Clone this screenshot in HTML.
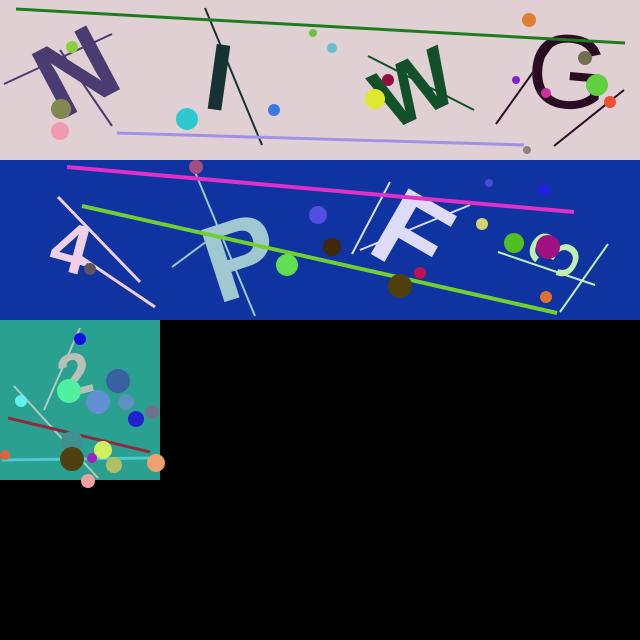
<!DOCTYPE html>
<html><head><meta charset="utf-8"><style>html,body{margin:0;padding:0;background:#000;}svg{display:block}</style></head>
<body>
<svg width="640" height="640" viewBox="0 0 640 640" xmlns="http://www.w3.org/2000/svg" font-family="Liberation Sans, sans-serif" font-weight="bold">
<rect width="640" height="640" fill="#000"/>
<g>
<rect x="0" y="0" width="640" height="160" fill="#e0d0d4"/>
<line x1="4" y1="84" x2="112" y2="34" stroke="#4a3c70" stroke-width="2"/>
<text x="75" y="108" font-size="105" fill="#4a3c70" text-anchor="middle" transform="rotate(-28 75 70)">N</text>
<line x1="60" y1="50" x2="112" y2="126" stroke="#4a3c70" stroke-width="2"/>
<text x="220" y="110" font-size="95" fill="#163232" text-anchor="middle" transform="rotate(8 220 70)">I</text>
<line x1="205" y1="8" x2="262" y2="145" stroke="#163232" stroke-width="2"/>
<text x="410" y="118" font-size="85" fill="#12502a" text-anchor="middle" transform="rotate(-25 410 80)">W</text>
<line x1="368" y1="56" x2="474" y2="110" stroke="#12502a" stroke-width="2"/>
<text x="568" y="108" font-size="105" font-weight="normal" fill="#2a0c22" text-anchor="middle" transform="rotate(5 568 70)">G</text>
<line x1="496" y1="124" x2="556" y2="40" stroke="#2a0c22" stroke-width="2"/>
<line x1="554" y1="146" x2="624" y2="90" stroke="#2a0c22" stroke-width="2"/>
<line x1="16" y1="9" x2="625" y2="43" stroke="#1e7c1e" stroke-width="3"/>
<line x1="117" y1="133" x2="524" y2="145" stroke="#a090e8" stroke-width="3"/>
<circle cx="72" cy="47" r="6" fill="#8ad040"/><circle cx="61" cy="109" r="10" fill="#808a50"/>
<circle cx="60" cy="131" r="9" fill="#f09ab0"/><circle cx="187" cy="119" r="11" fill="#30c8d0"/>
<circle cx="274" cy="110" r="6" fill="#3a7ae0"/><circle cx="313" cy="33" r="4" fill="#70c040"/>
<circle cx="332" cy="48" r="5" fill="#60c0d0"/><circle cx="375" cy="99" r="10" fill="#e0e830"/>
<circle cx="388" cy="80" r="6" fill="#901040"/><circle cx="529" cy="20" r="7" fill="#e08030"/>
<circle cx="516" cy="80" r="4" fill="#8020d0"/><circle cx="546" cy="93" r="5" fill="#d030a0"/>
<circle cx="585" cy="58" r="7" fill="#707050"/><circle cx="597" cy="85" r="11" fill="#60d040"/>
<circle cx="610" cy="102" r="6" fill="#f05030"/><circle cx="527" cy="150" r="4" fill="#908080"/>
</g>
<g>
<rect x="0" y="160" width="640" height="160" fill="#0f33a0"/>
<line x1="58" y1="197" x2="140" y2="282" stroke="#f0d0e8" stroke-width="3"/>
<line x1="75" y1="253" x2="155" y2="307" stroke="#f0d0e8" stroke-width="3"/>
<text x="72" y="272" font-size="70" fill="#f0d0e8" text-anchor="middle" transform="rotate(15 72 245)">4</text>
<line x1="195" y1="172" x2="255" y2="316" stroke="#a0c8d0" stroke-width="2"/>
<line x1="172" y1="267" x2="222" y2="230" stroke="#a0c8d0" stroke-width="2"/>
<text x="240" y="295" font-size="110" fill="#a0c8d0" text-anchor="middle" transform="rotate(-18 240 255)">P</text>
<line x1="352" y1="254" x2="390" y2="182" stroke="#dcdcf8" stroke-width="2"/>
<line x1="360" y1="250" x2="470" y2="205" stroke="#dcdcf8" stroke-width="2"/>
<text x="412" y="272" font-size="110" fill="#dcdcf8" text-anchor="middle" transform="rotate(30 412 235)">F</text>
<text x="555" y="278" font-size="70" font-weight="normal" fill="#c0f0b0" text-anchor="middle" transform="rotate(-60 555 255)">3</text>
<line x1="498" y1="252" x2="595" y2="285" stroke="#c0f0b0" stroke-width="2"/>
<line x1="560" y1="312" x2="608" y2="244" stroke="#c0f0b0" stroke-width="2"/>
<line x1="67" y1="167" x2="574" y2="212" stroke="#e030c8" stroke-width="4"/>
<line x1="82" y1="206" x2="557" y2="313" stroke="#70d030" stroke-width="4"/>
<circle cx="196" cy="167" r="7" fill="#a05080"/><circle cx="90" cy="269" r="6" fill="#605060"/>
<circle cx="287" cy="265" r="11" fill="#60e050"/><circle cx="318" cy="215" r="9" fill="#5050e0"/>
<circle cx="332" cy="247" r="9" fill="#402808"/><circle cx="400" cy="286" r="12" fill="#504008"/>
<circle cx="420" cy="273" r="6" fill="#c01050"/><circle cx="489" cy="183" r="4" fill="#4050d0"/>
<circle cx="544" cy="190" r="6" fill="#2020e0"/><circle cx="482" cy="224" r="6" fill="#d8d070"/>
<circle cx="514" cy="243" r="10" fill="#50c020"/><circle cx="548" cy="247" r="12" fill="#a01080"/>
<circle cx="546" cy="297" r="6" fill="#e07030"/>
</g>
<g>
<rect x="0" y="320" width="160" height="160" fill="#2aa090"/>
<line x1="44" y1="410" x2="80" y2="328" stroke="#b8c8c0" stroke-width="2"/>
<line x1="14" y1="386" x2="98" y2="478" stroke="#b8c8c0" stroke-width="2"/>
<text x="75" y="395" font-size="60" fill="#b8c0b8" text-anchor="middle" transform="rotate(-15 75 375)">2</text>
<line x1="8" y1="418" x2="150" y2="452" stroke="#902840" stroke-width="3"/>
<line x1="2" y1="460" x2="150" y2="458" stroke="#50c8d0" stroke-width="3"/>
<circle cx="80" cy="339" r="6" fill="#1010e0"/><circle cx="118" cy="381" r="12" fill="#3a60a0"/>
<circle cx="69" cy="391" r="12" fill="#50f0a0"/><circle cx="98" cy="402" r="12" fill="#6090d0"/>
<circle cx="126" cy="402" r="8" fill="#6090c0"/><circle cx="21" cy="401" r="6" fill="#60f0f0"/>
<circle cx="152" cy="412" r="7" fill="#707090"/><circle cx="136" cy="419" r="8" fill="#2020d0"/>
<circle cx="72" cy="442" r="11" fill="#409090"/><circle cx="72" cy="459" r="12" fill="#504010"/>
<circle cx="103" cy="450" r="9" fill="#d0f060"/><circle cx="92" cy="458" r="5" fill="#a020c0"/>
<circle cx="114" cy="465" r="8" fill="#b0c060"/><circle cx="156" cy="463" r="9" fill="#f0a070"/>
<circle cx="5" cy="455" r="5" fill="#e06040"/><circle cx="88" cy="481" r="7" fill="#f0a0a0"/>
</g>
</svg>
</body></html>
